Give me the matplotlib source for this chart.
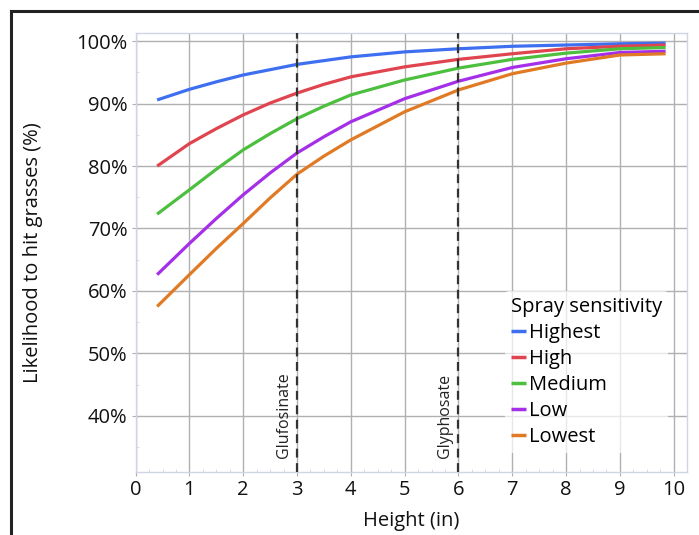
import matplotlib.pyplot as plt
from matplotlib.lines import Line2D
from matplotlib.ticker import MultipleLocator, FuncFormatter

plt.rcParams['font.family'] = ['Open Sans', 'DejaVu Sans']

# height (in) at which each curve was read
height = [0.4, 1, 1.5, 2, 2.5, 3, 3.5, 4, 5, 6, 7, 8, 9, 9.85]

# likelihood to hit grasses (%) per spray sensitivity
highest = [90.6, 92.3, 93.5, 94.6, 95.45, 96.3, 96.9, 97.5, 98.3, 98.8, 99.2, 99.4, 99.6, 99.7]
high = [80.0, 83.6, 86.0, 88.2, 90.1, 91.7, 93.1, 94.3, 95.9, 97.1, 98.0, 98.8, 99.2, 99.4]
medium = [72.3, 76.2, 79.5, 82.6, 85.2, 87.6, 89.6, 91.4, 93.8, 95.7, 97.1, 98.1, 98.8, 99.0]
low = [62.6, 67.6, 71.6, 75.4, 78.9, 82.1, 84.7, 87.1, 90.8, 93.6, 95.8, 97.2, 98.2, 98.4]
lowest = [57.5, 62.6, 66.8, 70.8, 74.9, 78.7, 81.6, 84.2, 88.7, 92.2, 94.8, 96.5, 97.8, 98.0]

series = [highest, high, medium, low, lowest]
names = ['Highest', 'High', 'Medium', 'Low', 'Lowest']
colors = ['#3d6ff0', '#e0444f', '#4dbf3e', '#a52ee8', '#e07a24']

# herbicide reference heights
herbicides = ['Glufosinate', 'Glyphosate']
herbicide_x = [3, 6]

fig = plt.figure(figsize=(6.99, 5.35), dpi=100)
ax = fig.add_axes([0.194, 0.118, 0.789, 0.820])

for vals, name, c in zip(series, names, colors):
    ax.plot(height, vals, color=c, lw=2.3, label=name, solid_capstyle='butt',
            solid_joinstyle='round', zorder=3)

for name, xv in zip(herbicides, herbicide_x):
    ax.axvline(xv, color='#333333', lw=1.6, ls=(0, (4, 2.5)), zorder=4)
    ax.text(xv - 0.25, 33.3, name, rotation=90, ha='center', va='bottom',
            fontsize=11.5, color='#222222')

ax.set_xlim(0, 10.25)
ax.set_ylim(31.0, 101.3)
ax.xaxis.set_major_locator(MultipleLocator(1))
ax.xaxis.set_minor_locator(MultipleLocator(0.25))
ax.yaxis.set_major_locator(MultipleLocator(10))
ax.yaxis.set_minor_locator(MultipleLocator(5))
ax.yaxis.set_major_formatter(FuncFormatter(lambda v, p: f'{v:.0f}%'))
ax.set_yticks([40, 50, 60, 70, 80, 90, 100])

ax.grid(True, which='major', color='#b0b0b0', lw=1.0, zorder=0)
for s in ax.spines.values():
    s.set_color('#cfd5e2')
    s.set_linewidth(1.0)
ax.tick_params(which='major', length=3, color='#b0b0b0', labelsize=14.5,
               labelcolor='#111111', pad=3)
ax.tick_params(which='minor', length=2, color='#cfd5e2', direction='in')

ax.set_xlabel('Height (in)', fontsize=14.5, color='#111111', labelpad=8)
ax.set_ylabel('Likelihood to hit grasses (%)', fontsize=14.5, color='#111111', labelpad=24)

leg = ax.legend(loc='upper left', bbox_to_anchor=(0.652, 0.435), title='Spray sensitivity',
                fontsize=14.5, title_fontsize=14.5, frameon=True, framealpha=0.7,
                edgecolor='none', handlelength=0.75, handletextpad=0.15,
                labelspacing=0.3, borderpad=0.3, alignment='left')
for h in leg.get_lines():
    h.set_linewidth(2.5)

# outer frame (top and left edges)
fig.add_artist(Line2D([0.0157, 1.0], [1 - 11 / 535, 1 - 11 / 535], color='#222222', lw=2.2,
                      transform=fig.transFigure))
fig.add_artist(Line2D([0.0157, 0.0157], [0.0, 1 - 11 / 535], color='#222222', lw=2.2,
                      transform=fig.transFigure))

fig.savefig('out.png', dpi=100)
